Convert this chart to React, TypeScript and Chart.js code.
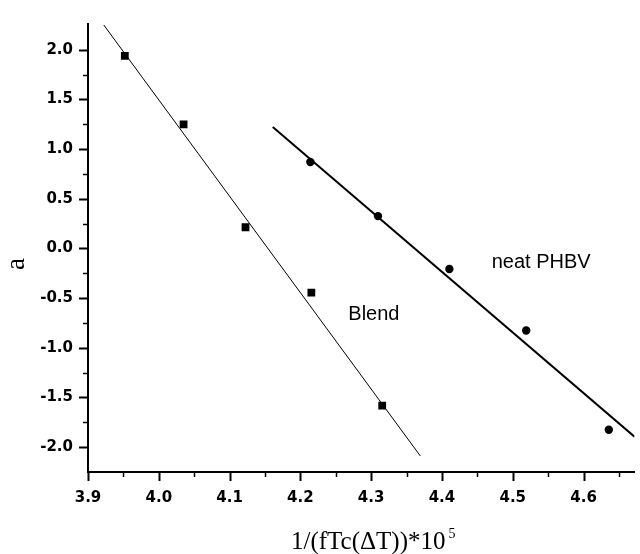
import React, { useEffect, useRef } from "react";
import { Chart, registerables } from "chart.js";

Chart.register(...registerables);

// Data
const blendX = [3.952, 4.035, 4.1225, 4.2155, 4.3156];
const blendY = [1.94, 1.25, 0.214, -0.444, -1.582];
const phbvX = [4.2141, 4.3096, 4.4105, 4.519, 4.6357];
const phbvY = [0.871, 0.326, -0.207, -0.826, -1.825];

// Linear fit lines (end points)
const blendFitX = [3.9223, 4.3695];
const blendFitY = [2.25, -2.089];
const phbvFitX = [4.161, 4.672];
const phbvFitY = [1.224, -1.894];

// Ticks
const xMajorTicks = [3.9, 4.0, 4.1, 4.2, 4.3, 4.4, 4.5, 4.6];
const xMinorTicks = [3.95, 4.05, 4.15, 4.25, 4.35, 4.45, 4.55, 4.65];
const yMajorTicks = [-2.0, -1.5, -1.0, -0.5, 0.0, 0.5, 1.0, 1.5, 2.0];
const yMinorTicks = [-1.75, -1.25, -0.75, -0.25, 0.25, 0.75, 1.25, 1.75];

// Text
const seriesLabels = ["Blend", "neat PHBV"];
const labelAnchorX = [4.2677, 4.4702];
const labelAnchorY = [-0.717, -0.1973];
const xTitleMain = "1/(fTc(\u0394T))*10";
const xTitleSup = "5";
const yTitle = "a";

const toPts = (xs: number[], ys: number[]) => xs.map((x, i) => ({ x, y: ys[i] }));

const decorPlugin = {
  id: "decor",
  afterDraw(chart: any) {
    const ctx = chart.ctx as CanvasRenderingContext2D;
    const xs = chart.scales.x;
    const ys = chart.scales.y;
    const area = chart.chartArea;
    ctx.save();
    ctx.strokeStyle = "#000";
    ctx.lineCap = "butt";
    const drawX = (vals: number[], len: number, w: number) => {
      ctx.lineWidth = w;
      vals.forEach((v) => {
        const px = Math.round(xs.getPixelForValue(v)) + 0.5;
        ctx.beginPath();
        ctx.moveTo(px, area.bottom);
        ctx.lineTo(px, area.bottom + len);
        ctx.stroke();
      });
    };
    const drawY = (vals: number[], len: number, w: number) => {
      ctx.lineWidth = w;
      vals.forEach((v) => {
        const py = Math.round(ys.getPixelForValue(v)) + 0.5;
        ctx.beginPath();
        ctx.moveTo(area.left - len, py);
        ctx.lineTo(area.left, py);
        ctx.stroke();
      });
    };
    drawX(xMajorTicks, 9, 2);
    drawX(xMinorTicks, 5, 1.5);
    drawY(yMajorTicks, 9, 2);
    drawY(yMinorTicks, 5, 1.5);

    // series labels
    ctx.fillStyle = "#000";
    ctx.font = "20px 'Liberation Sans', Arial, sans-serif";
    ctx.textAlign = "left";
    ctx.textBaseline = "alphabetic";
    seriesLabels.forEach((t, i) => {
      ctx.fillText(t, xs.getPixelForValue(labelAnchorX[i]), ys.getPixelForValue(labelAnchorY[i]));
    });

    // x title with superscript
    const gap = 3;
    ctx.font = "25px 'Liberation Serif', 'Times New Roman', serif";
    const mainW = ctx.measureText(xTitleMain).width;
    ctx.font = "14px 'Liberation Serif', 'Times New Roman', serif";
    const supW = ctx.measureText(xTitleSup).width;
    const total = mainW + gap + supW;
    const cx = (area.left + area.right) / 2 + 12;
    const startX = cx - total / 2;
    ctx.font = "25px 'Liberation Serif', 'Times New Roman', serif";
    ctx.fillText(xTitleMain, startX, 549);
    ctx.font = "14px 'Liberation Serif', 'Times New Roman', serif";
    ctx.fillText(xTitleSup, startX + mainW + gap, 538);

    // y title
    ctx.save();
    ctx.font = "27px 'Liberation Serif', 'Times New Roman', serif";
    ctx.translate(24, (area.top + area.bottom) / 2 + 16);
    ctx.rotate(-Math.PI / 2);
    ctx.textAlign = "center";
    ctx.fillText(yTitle, 0, 0);
    ctx.restore();

    ctx.restore();
  },
};

export default function App() {
  const canvasRef = useRef<HTMLCanvasElement | null>(null);

  useEffect(() => {
    if (!canvasRef.current) return;
    const tickFont = { family: "'DejaVu Sans', sans-serif", weight: "bold" as const, size: 15 };
    const chart = new Chart(canvasRef.current, {
      type: "scatter",
      data: {
        datasets: [
          {
            label: "Blend fit",
            data: toPts(blendFitX, blendFitY),
            showLine: true,
            borderColor: "#000",
            borderWidth: 1,
            pointRadius: 0,
            fill: false,
          },
          {
            label: "neat PHBV fit",
            data: toPts(phbvFitX, phbvFitY),
            showLine: true,
            borderColor: "#000",
            borderWidth: 2,
            pointRadius: 0,
            fill: false,
          },
          {
            label: "Blend",
            data: toPts(blendX, blendY),
            pointStyle: "rect",
            pointRadius: 5.5,
            backgroundColor: "#000",
            borderColor: "#000",
            borderWidth: 0,
          },
          {
            label: "neat PHBV",
            data: toPts(phbvX, phbvY),
            pointStyle: "circle",
            pointRadius: 4.2,
            backgroundColor: "#000",
            borderColor: "#000",
            borderWidth: 0,
          },
        ],
      },
      options: {
        responsive: false,
        animation: false,
        layout: { padding: { top: 15, left: 0, right: 0, bottom: 0 } },
        plugins: {
          legend: { display: false },
          tooltip: { enabled: false },
          title: { display: false },
        },
        scales: {
          x: {
            type: "linear",
            min: 3.9,
            max: 4.672,
            afterBuildTicks: (scale: any) => {
              scale.ticks = xMajorTicks.map((v) => ({ value: v }));
            },
            afterFit: (scale: any) => {
              scale.height = 82;
            },
            ticks: {
              color: "#000",
              font: tickFont,
              padding: 17,
              maxRotation: 0,
              autoSkip: false,
              callback: (v: any) => Number(v).toFixed(1),
            },
            grid: { display: true, drawOnChartArea: false, drawTicks: false, tickLength: 0 },
            border: { display: true, color: "#000", width: 2 },
          },
          y: {
            type: "linear",
            min: -2.25,
            max: 2.26,
            afterBuildTicks: (scale: any) => {
              scale.ticks = yMajorTicks.map((v) => ({ value: v }));
            },
            afterFit: (scale: any) => {
              scale.width = 88;
            },
            ticks: {
              color: "#000",
              font: tickFont,
              padding: 15,
              autoSkip: false,
              callback: (v: any) => Number(v).toFixed(1),
            },
            grid: { display: true, drawOnChartArea: false, drawTicks: false, tickLength: 0 },
            border: { display: true, color: "#000", width: 2 },
          },
        },
      },
      plugins: [decorPlugin],
    });
    return () => chart.destroy();
  }, []);

  return (
    <div style={{ position: "absolute", left: 0, top: 0, width: 640, height: 554, background: "#fff" }}>
      <canvas ref={canvasRef} width={640} height={554} style={{ display: "block", width: 640, height: 554 }} />
    </div>
  );
}
